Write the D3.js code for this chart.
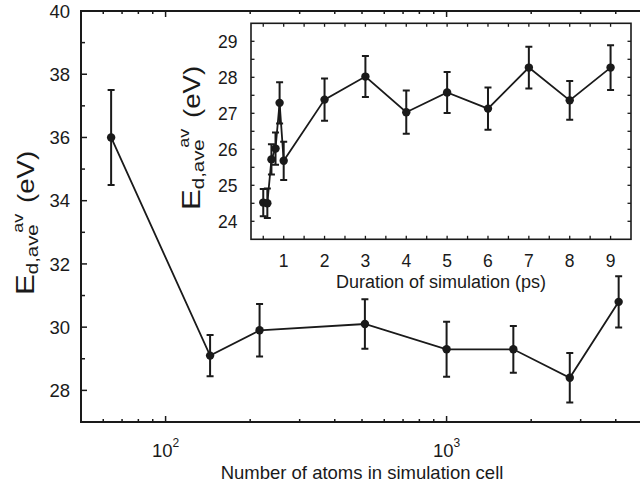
<!DOCTYPE html>
<html>
<head>
<meta charset="utf-8">
<script src="https://cdn.jsdelivr.net/npm/d3@7"></script>
<style>
    body { margin: 0; background: #fff; }
    text { font-family: 'Liberation Sans', Arial, sans-serif; fill: #1a1a1a; }
</style>
</head>
<body>
<script>
// Main plot data: threshold energy vs. cell size
const atomCounts = [64, 144, 216, 512, 1000, 1728, 2744, 4096];
const energyBySize = [36.0, 29.1, 29.9, 30.1, 29.3, 29.3, 28.4, 30.8];
const errBySize = [1.5, 0.65, 0.83, 0.78, 0.87, 0.74, 0.78, 0.81];

// Inset data: threshold energy vs. simulation time
const durations = [0.5, 0.6, 0.7, 0.8, 0.9, 1, 2, 3, 4, 5, 6, 7, 8, 9];
const energyByTime = [24.52, 24.50, 25.72, 26.02, 27.29, 25.68, 27.38, 28.02, 27.03, 27.58, 27.13, 28.27, 27.36, 28.27];
const errByTime = [0.38, 0.41, 0.42, 0.45, 0.57, 0.53, 0.59, 0.57, 0.60, 0.57, 0.59, 0.58, 0.54, 0.62];

// Tick labels
const mainYTicks = [28, 30, 32, 34, 36, 38, 40];
const mainXTicks = [100, 1000];
const insetXTicks = [1, 2, 3, 4, 5, 6, 7, 8, 9];
const insetYTicks = [24, 25, 26, 27, 28, 29];

const ink = '#1a1a1a';

const svg = d3.select('body').append('svg')
    .attr('width', 640)
    .attr('height', 485);

// ---- main plot ----
const mainDims = { left: 81, right: 643, top: 11, bottom: 422 };

const xMain = d3.scaleLog().domain([50, 5000]).range([mainDims.left, mainDims.right]);
const yMain = d3.scaleLinear().domain([27, 40]).range([mainDims.bottom, mainDims.top]);

const mainFrame = svg.append('g').attr('class', 'main-frame');

// frame: left, top, bottom (right edge is off the page)
mainFrame.append('path')
    .attr('d', `M${mainDims.right},${mainDims.top}H${mainDims.left}V${mainDims.bottom}H${mainDims.right}`)
    .attr('fill', 'none')
    .attr('stroke', ink)
    .attr('stroke-width', 2);

const minorX = d3.range(60, 100, 10)
    .concat(d3.range(200, 1000, 100))
    .concat(d3.range(2000, 5000, 1000));

const xTickMarks = mainXTicks.map(v => ({ v, len: 6 }))
    .concat(minorX.map(v => ({ v, len: 3 })));

mainFrame.selectAll('.xtick-bottom')
    .data(xTickMarks)
    .join('line')
        .attr('x1', d => xMain(d.v))
        .attr('x2', d => xMain(d.v))
        .attr('y1', mainDims.bottom)
        .attr('y2', d => mainDims.bottom - d.len)
        .attr('stroke', ink)
        .attr('stroke-width', 1.5);

mainFrame.selectAll('.xtick-top')
    .data(xTickMarks)
    .join('line')
        .attr('x1', d => xMain(d.v))
        .attr('x2', d => xMain(d.v))
        .attr('y1', mainDims.top)
        .attr('y2', d => mainDims.top + d.len)
        .attr('stroke', ink)
        .attr('stroke-width', 1.5);

const yTickMarks = d3.range(28, 40, 1).map(v => ({ v, len: v % 2 === 0 ? 6 : 4 }));

mainFrame.selectAll('.ytick')
    .data(yTickMarks)
    .join('line')
        .attr('x1', mainDims.left)
        .attr('x2', d => mainDims.left + d.len)
        .attr('y1', d => yMain(d.v))
        .attr('y2', d => yMain(d.v))
        .attr('stroke', ink)
        .attr('stroke-width', 1.5);

mainFrame.selectAll('.ylabel')
    .data(mainYTicks)
    .join('text')
        .attr('x', 70)
        .attr('y', d => yMain(d))
        .attr('dy', '0.36em')
        .attr('text-anchor', 'end')
        .attr('font-size', '18.5px')
        .text(d => d);

const xLabels = mainFrame.selectAll('.xlabel')
    .data(mainXTicks)
    .join('text')
        .attr('x', d => xMain(d))
        .attr('y', 456.5)
        .attr('text-anchor', 'middle')
        .attr('font-size', '18.5px');
xLabels.append('tspan').text('10');
xLabels.append('tspan')
    .attr('font-size', '12px')
    .attr('dy', -10)
    .text(d => Math.round(Math.log10(d)));

mainFrame.append('text')
    .attr('x', (mainDims.left + mainDims.right) / 2)
    .attr('y', 479)
    .attr('text-anchor', 'middle')
    .attr('font-size', '18.5px')
    .text('Number of atoms in simulation cell');

// rotated y label with sub/superscript
const energyLabel = (x, y) => {
    const t = svg.append('text')
        .attr('transform', `translate(${x}, ${y}) rotate(-90) scale(1.2, 1)`)
        .attr('text-anchor', 'start');
    t.append('tspan').attr('font-size', '26px').text('E');
    t.append('tspan').attr('font-size', '17px').attr('dy', 4).text('d,ave');
    t.append('tspan').attr('font-size', '15px').attr('dx', -7).attr('dy', -15).text('av');
    t.append('tspan').attr('font-size', '23px').attr('dx', 9).attr('dy', 11).text('(eV)');
};

energyLabel(34, 295);

const mainPlot = svg.append('g').attr('class', 'main-plot');

mainPlot.append('path')
    .datum(atomCounts.map((n, i) => [n, energyBySize[i]]))
    .attr('fill', 'none')
    .attr('stroke', ink)
    .attr('stroke-width', 1.8)
    .attr('d', d3.line().x(d => xMain(d[0])).y(d => yMain(d[1])));

const drawErrorBars = (g, xs, ys, errs, xScale, yScale, capHalf) => {
    const rows = xs.map((x, i) => ({ x, y: ys[i], e: errs[i] }));
    g.selectAll('.err')
        .data(rows)
        .join('path')
            .attr('fill', 'none')
            .attr('stroke', ink)
            .attr('stroke-width', 2)
            .attr('d', d => {
                const cx = xScale(d.x);
                const top = yScale(d.y + d.e);
                const bot = yScale(d.y - d.e);
                return `M${cx},${top}V${bot}M${cx - capHalf},${top}H${cx + capHalf}M${cx - capHalf},${bot}H${cx + capHalf}`;
            });
    g.selectAll('.dot')
        .data(rows)
        .join('circle')
            .attr('cx', d => xScale(d.x))
            .attr('cy', d => yScale(d.y))
            .attr('r', 4.2)
            .attr('fill', ink);
};

drawErrorBars(mainPlot, atomCounts, energyBySize, errBySize, xMain, yMain, 3.5);

// ---- inset ----
const insetDims = { left: 251, right: 631, top: 23.3, bottom: 239.3 };

const xInset = d3.scaleLinear().domain([0.2, 9.5]).range([insetDims.left, insetDims.right]);
const yInset = d3.scaleLinear().domain([23.5, 29.5]).range([insetDims.bottom, insetDims.top]);

const inset = svg.append('g').attr('class', 'inset');

inset.append('rect')
    .attr('x', insetDims.left)
    .attr('y', insetDims.top)
    .attr('width', insetDims.right - insetDims.left)
    .attr('height', insetDims.bottom - insetDims.top)
    .attr('fill', '#fff')
    .attr('stroke', ink)
    .attr('stroke-width', 1.6);

const insetXMarks = d3.range(0.5, 9.5, 0.5);
const insetYMarks = d3.range(24, 29.5, 0.5);

[[insetDims.bottom, -1], [insetDims.top, 1]].forEach(([y0, dir]) => {
    inset.append('g').selectAll('line')
        .data(insetXMarks)
        .join('line')
            .attr('x1', d => xInset(d))
            .attr('x2', d => xInset(d))
            .attr('y1', y0)
            .attr('y2', y0 + dir * 3.5)
            .attr('stroke', ink)
            .attr('stroke-width', 1.3);
});

[[insetDims.left, 1], [insetDims.right, -1]].forEach(([x0, dir]) => {
    inset.append('g').selectAll('line')
        .data(insetYMarks)
        .join('line')
            .attr('x1', x0)
            .attr('x2', x0 + dir * 3.5)
            .attr('y1', d => yInset(d))
            .attr('y2', d => yInset(d))
            .attr('stroke', ink)
            .attr('stroke-width', 1.3);
});

inset.selectAll('.ixlabel')
    .data(insetXTicks)
    .join('text')
        .attr('x', d => xInset(d))
        .attr('y', 267)
        .attr('text-anchor', 'middle')
        .attr('font-size', '17.5px')
        .text(d => d);

inset.selectAll('.iylabel')
    .data(insetYTicks)
    .join('text')
        .attr('x', 237.5)
        .attr('y', d => yInset(d))
        .attr('dy', '0.36em')
        .attr('text-anchor', 'end')
        .attr('font-size', '17.5px')
        .text(d => d);

inset.append('text')
    .attr('x', (insetDims.left + insetDims.right) / 2)
    .attr('y', 288)
    .attr('text-anchor', 'middle')
    .attr('font-size', '18px')
    .text('Duration of simulation (ps)');

energyLabel(200, 210);

inset.append('path')
    .datum(durations.map((t, i) => [t, energyByTime[i]]))
    .attr('fill', 'none')
    .attr('stroke', ink)
    .attr('stroke-width', 1.8)
    .attr('d', d3.line().x(d => xInset(d[0])).y(d => yInset(d[1])));

drawErrorBars(inset, durations, energyByTime, errByTime, xInset, yInset, 3.5);
</script>
</body>
</html>
